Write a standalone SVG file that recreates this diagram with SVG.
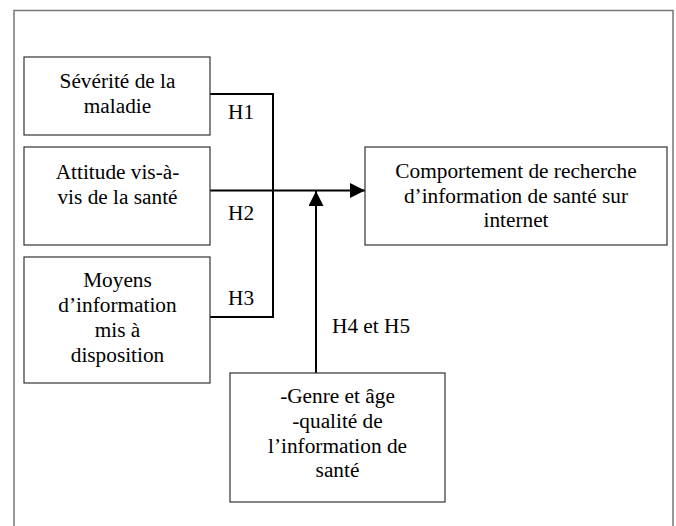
<svg xmlns="http://www.w3.org/2000/svg" width="676" height="526" viewBox="0 0 676 526">
<style>
.box{fill:#fff;stroke:#333;stroke-width:1.2}
.frame{fill:none;stroke:#777;stroke-width:1.5}
.t{font-family:"Liberation Serif","Times New Roman",serif;font-size:21.3px;fill:#000}
.c{text-anchor:middle}
.ln{fill:none;stroke:#000;stroke-width:2}
</style>
<defs>
<marker id="ah" markerWidth="15" markerHeight="15" refX="15" refY="7.5" orient="auto" markerUnits="userSpaceOnUse">
<path d="M0,0 L15,7.5 L0,15 Z" fill="#000"/>
</marker>
</defs>
<rect width="676" height="526" fill="#fff"/>
<path class="frame" d="M14,526 V10.5 H673 V526"/>
<g id="connectors">
<path class="ln" d="M209,94 H273 V317 H209"/>
<path class="ln" d="M209,190.5 H365" marker-end="url(#ah)"/>
<path class="ln" d="M316,374 V191" marker-end="url(#ah)"/>
<text class="t" x="228" y="119">H1</text>
<text class="t" x="228" y="220">H2</text>
<text class="t" x="228" y="305">H3</text>
<text class="t" x="332" y="333">H4 et H5</text>
</g>
<g id="n1">
<rect class="box" x="24" y="57" width="186" height="78"/>
<text class="t c" x="117.5" y="88">Sévérité de la</text>
<text class="t c" x="117.5" y="113">maladie</text>
</g>
<g id="n2">
<rect class="box" x="24" y="147" width="186" height="98"/>
<text class="t c" x="117.5" y="179">Attitude vis-à-</text>
<text class="t c" x="117.5" y="204">vis de la santé</text>
</g>
<g id="n3">
<rect class="box" x="24" y="257" width="186" height="126"/>
<text class="t c" x="117.5" y="287">Moyens</text>
<text class="t c" x="117.5" y="312">d’information</text>
<text class="t c" x="117.5" y="337">mis à</text>
<text class="t c" x="117.5" y="362">disposition</text>
</g>
<g id="n4">
<rect class="box" x="365" y="147" width="302" height="98"/>
<text class="t c" x="516" y="178">Comportement de recherche</text>
<text class="t c" x="516" y="203">d’information de santé sur</text>
<text class="t c" x="516" y="227">internet</text>
</g>
<g id="n5">
<rect class="box" x="230" y="373" width="215" height="129"/>
<text class="t c" x="337.5" y="403">-Genre et âge</text>
<text class="t c" x="337.5" y="428">-qualité de</text>
<text class="t c" x="337.5" y="453">l’information de</text>
<text class="t c" x="337.5" y="477">santé</text>
</g>
</svg>
